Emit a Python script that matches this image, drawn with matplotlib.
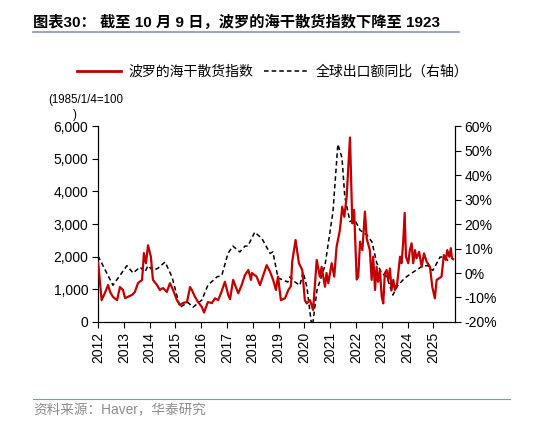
# 波罗的海干散货指数与全球出口额同比
import matplotlib
matplotlib.use("Agg")
import matplotlib.pyplot as plt
from matplotlib.lines import Line2D

plt.rcParams["font.family"] = ["Liberation Sans", "Noto Sans CJK SC"]

# 波罗的海干散货指数 (时间以年份小数表示)
bdi_t = [
    2012.01, 2012.14, 2012.27, 2012.39, 2012.47, 2012.58, 2012.74, 2012.85, 2012.97,
    2013.05, 2013.16, 2013.32, 2013.43, 2013.55, 2013.71, 2013.78, 2013.86, 2013.94,
    2014.05, 2014.13, 2014.29, 2014.40, 2014.52, 2014.67, 2014.79, 2014.91,
    2015.06, 2015.18, 2015.29, 2015.45, 2015.57, 2015.64, 2015.76, 2015.88,
    2016.03, 2016.11, 2016.26, 2016.42, 2016.535, 2016.66, 2016.79, 2016.92,
    2017.05, 2017.12, 2017.24, 2017.34, 2017.44, 2017.57, 2017.70, 2017.83, 2017.93, 2017.97,
    2018.15, 2018.28, 2018.41, 2018.54, 2018.67, 2018.79, 2018.90, 2018.98,
    2019.09, 2019.25, 2019.38, 2019.48, 2019.53, 2019.66, 2019.79, 2019.92,
    2020.02, 2020.09, 2020.22, 2020.34, 2020.48, 2020.60, 2020.67, 2020.80, 2020.86, 2020.93,
    2021.06, 2021.16, 2021.25, 2021.38, 2021.47, 2021.55, 2021.64, 2021.77, 2021.81, 2021.86, 2021.93,
    2022.03, 2022.09, 2022.16, 2022.25, 2022.35, 2022.42, 2022.54, 2022.61, 2022.67, 2022.74,
    2022.80, 2022.86, 2022.93, 2023.00, 2023.06, 2023.12, 2023.19, 2023.25, 2023.32, 2023.38,
    2023.45, 2023.51, 2023.60, 2023.71, 2023.77, 2023.83, 2023.89, 2023.94,
    2024.03, 2024.09, 2024.16, 2024.22, 2024.29, 2024.35, 2024.45, 2024.55, 2024.64, 2024.74,
    2024.87, 2024.96, 2025.06, 2025.13, 2025.23, 2025.32, 2025.41, 2025.49, 2025.54, 2025.62,
    2025.68, 2025.72, 2025.77,
]
bdi_v = [
    1800, 670, 890, 1130, 920, 770, 670, 1070, 980,
    730, 770, 830, 920, 1190, 1290, 2110, 1800, 2350,
    2000, 1290, 1130, 980, 1040, 920, 1190, 980,
    670, 520, 580, 610, 1070, 980, 770, 610,
    460, 290, 610, 580, 725, 670, 930, 1230,
    830, 700, 1290, 1080, 880, 1130, 1440, 1590, 1290, 1500,
    1390, 1130, 1440, 1740, 1540, 1290, 980, 1390,
    670, 725, 980, 1100, 1850, 2510, 1800, 1590,
    670, 570, 670, 370, 1900, 1390, 1690, 1080, 1500, 1190,
    1800, 1390, 2300, 2820, 3530, 3220, 3830, 5650, 4450, 3020, 3430,
    1300, 1390, 2460, 2200, 3380, 2550, 2200, 1290, 2000, 980,
    1690, 1230, 1590, 775, 570, 1490, 1590, 1290, 1640, 980,
    1290, 980, 1180, 2000, 1800, 2410, 3340, 2000,
    1800, 2200, 2410, 1800, 2200, 1950, 2150, 1690, 2100, 1850,
    1690, 1080, 725, 1290, 1340, 1390, 2050, 1900, 2200, 2000,
    2260, 1950, 1923,
]

# 全球出口额同比 (%)
exp_t = [
    2012.00, 2012.58, 2013.12, 2013.36, 2013.63, 2013.82, 2013.94, 2014.13, 2014.33,
    2014.60, 2014.87, 2015.18, 2015.49, 2015.68, 2016.03, 2016.26, 2016.61, 2016.80,
    2017.04, 2017.23, 2017.50, 2017.70, 2017.81, 2018.08, 2018.36, 2018.67, 2018.78,
    2018.98, 2019.36, 2019.44, 2019.64, 2019.83, 2019.95, 2020.10, 2020.30, 2020.49,
    2020.80, 2021.11, 2021.30, 2021.46, 2021.57, 2021.77, 2021.96, 2022.16, 2022.43,
    2022.62, 2022.81, 2023.00, 2023.20, 2023.43, 2023.63, 2023.90, 2024.17, 2024.60,
    2024.79, 2024.98, 2025.26, 2025.45, 2025.57,
]
exp_v = [
    7, -5, 3, 0, 2.4, 0.4, 3, 1, 2,
    4.5, -1.6, -14, -12, -14, -11, -5, -1.6, -1,
    8, 11, 8.6, 11, 11, 16.7, 14, 8, 8.6,
    -2, -3.7, -1.6, -3.7, -5, 0.4, -5.7, -23, -7,
    3, 25, 52.6, 47, 31, 21, 21.6, 17.5, 15.5,
    12.7, 4, 0, -1.6, -9, -5, -2, 0, 3,
    3, 1, 6.5, 6.5, 5,
]

years = list(range(2012, 2026))
left_ticks = [0, 1000, 2000, 3000, 4000, 5000, 6000]
right_ticks = [-20, -10, 0, 10, 20, 30, 40, 50, 60]

red = "#C00000"

# 创建图形
fig = plt.figure(figsize=(5.34, 4.23), dpi=100)
ax = fig.add_axes([0.1835, 0.2388, 0.6685, 0.4632])
ax2 = ax.twinx()

ax2.plot(exp_t, exp_v, color="black", lw=1.1, ls=(0, (3, 2)), zorder=2)
ax.plot(bdi_t, bdi_v, color=red, lw=1.6, zorder=3)
ax.set_zorder(ax2.get_zorder() + 1)
ax.patch.set_visible(False)

ax.set_xlim(2012, 2025.84)
ax.set_ylim(0, 6000)
ax2.set_ylim(-20, 60)

ax.set_xticks(years)
ax.set_xticklabels([str(y) for y in years], rotation=90, fontsize=10)
ax.set_yticks(left_ticks)
ax.set_yticklabels([f"{v:,}" for v in left_ticks], fontsize=10)
ax2.set_yticks(right_ticks)
ax2.set_yticklabels([f"{v}%" for v in right_ticks], fontsize=10)

for a in (ax, ax2):
    a.spines["top"].set_visible(False)
    for s in ("left", "right", "bottom"):
        a.spines[s].set_color("black")
        a.spines[s].set_linewidth(0.8)
    a.tick_params(direction="out", length=4, width=0.8, colors="black", pad=3)

# 单位
fig.text(0.09, 0.763, "(1985/1/4=100", fontsize=8.3, ha="left", va="center")
fig.text(0.137, 0.727, ")", fontsize=8.3, ha="left", va="center")

# 图例
handles = [
    Line2D([], [], color=red, lw=2),
    Line2D([], [], color="black", lw=1.1, ls=(0, (3, 2))),
]
fig.legend(handles, ["波罗的海干散货指数", "全球出口额同比（右轴）"],
           loc="center", bbox_to_anchor=(0.51, 0.83), ncol=2, frameon=False,
           fontsize=10, handlelength=3.2, columnspacing=0.8, handletextpad=0.5)

# 标题
fig.text(0.062, 0.948, "图表30： 截至 10 月 9 日，波罗的海干散货指数下降至 1923",
         fontsize=11, fontweight="bold", ha="left", va="center")
fig.add_artist(Line2D([0.062, 0.86], [0.925, 0.925], color="#7F98B8", lw=1.2))

# 资料来源
fig.add_artist(Line2D([0.062, 0.955], [0.057, 0.057], color="#7F98B8", lw=0.8))
fig.text(0.062, 0.03, "资料来源：Haver，华泰研究", fontsize=9.8, color="#8C8C8C",
         ha="left", va="center")

fig.savefig("out.png", dpi=100)
